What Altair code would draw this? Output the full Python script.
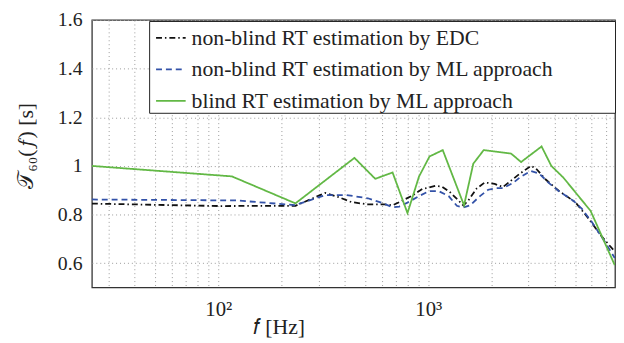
import altair as alt
import pandas as pd

series_names = [
    "non-blind RT estimation by EDC",
    "non-blind RT estimation by ML approach",
    "blind RT estimation by ML approach",
]
series_colors = ["#111111", "#3352a8", "#62b845"]
series_dashes = [[6, 3, 1.5, 3], [6, 4], [1, 0]]

edc_f = [25, 101, 233, 323, 373, 431, 516, 619, 676, 727, 840, 936, 1082, 1162,
         1273, 1393, 1469, 1552, 1699, 1858, 2071, 2267, 2718, 3081, 3252, 3625,
         4190, 5013, 5795, 6693, 7727]
edc_t = [0.845, 0.835, 0.836, 0.889, 0.872, 0.851, 0.842, 0.842, 0.838, 0.851,
         0.878, 0.905, 0.918, 0.915, 0.891, 0.858, 0.837, 0.858, 0.907, 0.932,
         0.926, 0.913, 0.967, 1.000, 0.990, 0.944, 0.897, 0.851, 0.784, 0.710,
         0.648]

ml_f = [25, 122, 233, 323, 408, 516, 597, 676, 727, 796, 903, 1007, 1122, 1250,
        1368, 1469, 1582, 1763, 1928, 2110, 2267, 2524, 2762, 3081, 3373, 3759,
        4190, 4921, 5395, 6013, 6934, 7727]
ml_t = [0.862, 0.858, 0.839, 0.880, 0.880, 0.867, 0.849, 0.830, 0.833, 0.849,
        0.876, 0.896, 0.896, 0.876, 0.836, 0.829, 0.838, 0.876, 0.902, 0.909,
        0.909, 0.929, 0.956, 0.979, 0.969, 0.929, 0.896, 0.856, 0.823, 0.769,
        0.688, 0.621]

blind_f = [25, 116, 233, 445, 559, 676, 796, 903, 1014, 1172, 1480, 1638, 1836,
           2477, 2767, 3464, 3855, 4398, 5930, 7727]
blind_t = [1.000, 0.957, 0.846, 1.033, 0.947, 0.973, 0.806, 0.956, 1.039, 1.065,
           0.838, 1.009, 1.065, 1.051, 1.016, 1.080, 1.000, 0.952, 0.815, 0.592]

x_grid = [30, 40, 50, 60, 70, 80, 90, 100, 200, 300, 400, 500, 600, 700, 800,
          900, 1000, 2000, 3000, 4000, 5000, 6000, 7000]
y_ticks = [0.6, 0.8, 1.0, 1.2, 1.4, 1.6]

rows = []
for name, fs, ts in zip(series_names, [edc_f, ml_f, blind_f], [edc_t, ml_t, blind_t]):
    for f, t in zip(fs, ts):
        rows.append({"series": name, "f": f, "t": t})
df = pd.DataFrame(rows)

FONT = "Liberation Serif"
TXT = "#222222"
PAD = "\u00a0" * 11 + "\u200b"

legend = alt.Legend(
    title=None,
    orient="none",
    legendX=58,
    legendY=1,
    fillColor="white",
    strokeColor="#222222",
    padding=1,
    symbolOffset=5,
    symbolType="stroke",
    symbolSize=900,
    symbolStrokeWidth=1.8,
    labelFont=FONT,
    labelFontSize=22,
    labelColor=TXT,
    rowPadding=5,
    labelOffset=5,
    labelLimit=700,
    labelExpr="datum.label + '" + PAD + "'",
)

chart = (
    alt.Chart(df)
    .mark_line(clip=True, strokeWidth=1.8)
    .encode(
        x=alt.X(
            "f:Q",
            scale=alt.Scale(type="log", domain=[25, 7750], nice=False),
            axis=alt.Axis(
                values=x_grid,
                labelExpr="datum.value == 100 ? '10²' : (datum.value == 1000 ? '10³' : '')",
                title="𝑓  [Hz]",
                titleFont=FONT,
                titleFontSize=22,
                titleFontWeight="normal",
                titleColor=TXT,
                titleX=189,
                titleY=40,
                titleBaseline="middle",
                titleAlign="center",
                labelFont=FONT,
                labelFontSize=21,
                labelColor=TXT,
                labelPadding=11,
                ticks=False,
                domain=False,
                grid=True,
                gridDash=[1, 3],
                gridColor="#9a9a9a",
                labelOverlap=False,
            ),
        ),
        y=alt.Y(
            "t:Q",
            scale=alt.Scale(domain=[0.5, 1.6], nice=False, zero=False),
            axis=alt.Axis(
                values=y_ticks,
                format=".1~f",
                title="𝒯₆₀(𝑓) [s]",
                titleFont=FONT,
                titleFontSize=22,
                titleFontWeight="normal",
                titleColor=TXT,
                titleAngle=-90,
                titleX=-67,
                titleY=127,
                titleBaseline="middle",
                titleAlign="center",
                labelFont=FONT,
                labelFontSize=20,
                labelColor=TXT,
                labelPadding=10,
                ticks=False,
                domain=False,
                grid=True,
                gridDash=[1, 3],
                gridColor="#9a9a9a",
            ),
        ),
        color=alt.Color(
            "series:N",
            scale=alt.Scale(domain=series_names, range=series_colors),
            legend=legend,
        ),
        strokeDash=alt.StrokeDash(
            "series:N",
            scale=alt.Scale(domain=series_names, range=series_dashes),
            legend=legend,
        ),
    )
    .properties(
        width=530,
        height=271,
        autosize=alt.AutoSizeParams(type="none"),
        padding={"left": 85, "top": 10, "right": 1, "bottom": 50},
    )
    .configure_view(stroke="#333333", strokeWidth=1.3)
)

chart.save("out.html", embed_options={"renderer": "svg", "actions": False})
